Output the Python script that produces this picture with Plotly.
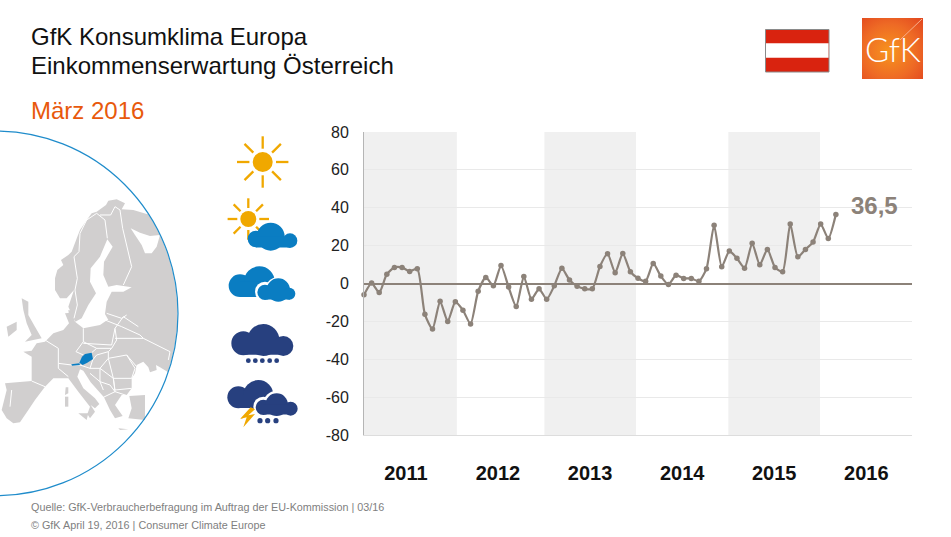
import base64, math
import plotly.graph_objects as go

W, H = 951, 537
FONT = "Liberation Sans"
LINE = "#8c8279"

# ---------- data ----------
months = list(range(63))
index_values = [
    -6.0, 0.2, -4.8, 4.9, 8.5, 8.5, 6.4, 7.8, -16.3, -24.0, -9.4, -20.0,
    -9.7, -14.1, -21.4, -4.1, 3.2, -1.2, 9.5, -1.9, -12.2, 3.7, -8.3, -2.8,
    -8.3, -1.2, 8.0, 1.8, -1.4, -2.8, -2.8, 9.0, 15.7, 5.7, 15.9, 6.2,
    2.8, 1.2, 10.6, 3.9, -0.5, 4.4, 2.7, 2.7, 1.2, 7.8, 30.7, 8.8,
    17.1, 13.3, 8.1, 21.2, 9.9, 18.0, 8.5, 6.2, 31.4, 14.1, 18.0, 21.9,
    31.4, 23.7, 36.5,
]
year_labels = ["2011", "2012", "2013", "2014", "2015", "2016"]
year_ticks = [5.5, 17.6, 29.7, 41.8, 53.9, 66.0]
y_ticks = [80, 60, 40, 20, 0, -20, -40, -60, -80]
y_tick_labels = ["80", "60", "40", "20", "0", "-20", "-40", "-60", "-80"]
band_edges = [(0, 12.2), (23.7, 35.74), (47.87, 59.92)]

# ---------- pixel helpers for the decoration ----------
def fx(x): return x / W
def fy(y): return 1 - y / H
def rect(x0, y0, x1, y1, fill, line=None, lw=0, layer="above"):
    return dict(type="rect", xref="paper", yref="paper", x0=fx(x0), x1=fx(x1), y0=fy(y1), y1=fy(y0),
                fillcolor=fill, line=dict(color=line or fill, width=lw), layer=layer)
def circle(cx, cy, r, fill, line=None, lw=0):
    return dict(type="circle", xref="paper", yref="paper", x0=fx(cx - r), x1=fx(cx + r),
                y0=fy(cy + r), y1=fy(cy - r), fillcolor=fill,
                line=dict(color=line or fill, width=lw), layer="above")
def seg(x0, y0, x1, y1, color, lw):
    return dict(type="line", xref="paper", yref="paper", x0=fx(x0), x1=fx(x1), y0=fy(y0), y1=fy(y1),
                line=dict(color=color, width=lw), layer="above")
def poly(pts, fill, line=None, lw=0, close=True):
    d = "M" + " L".join(f"{fx(x):.5f},{fy(y):.5f}" for x, y in pts) + (" Z" if close else "")
    s = dict(type="path", xref="paper", yref="paper", path=d,
             line=dict(color=line or fill, width=lw), layer="above")
    if fill and close:
        s["fillcolor"] = fill
    return s

C_CX, C_CY, C_R = -4.3, 313.4, 182.3
def arc(y0, y1, n=12):
    return [(C_CX + math.sqrt(C_R**2 - (y0 + (y1 - y0) * i / n - C_CY)**2) - 0.5, y0 + (y1 - y0) * i / n)
            for i in range(n + 1)]
def z5(p): return [(x / 3, 190 + y / 3) for x, y in p]
def z6(p): return [(x / 3, 310 + y / 3) for x, y in p]

GRAY = "#d1cfcf"
shapes = []
for a, b in band_edges:
    shapes.append(dict(type="rect", xref="x", yref="y", x0=a, x1=b, y0=-80, y1=80,
                       fillcolor="#f0f0f0", line=dict(width=0), layer="below"))

# --- Europe map ---
nordic = (z5([(165, 265), (172, 240), (190, 225), (183, 210), (205, 195), (215, 185), (232, 140), (240, 120),
              (262, 88), (275, 70), (290, 65), (318, 45), (325, 32), (350, 28), (375, 40), (365, 58), (400, 60),
              (440, 72)])
          + arc(214, 332)
          + z6([(355, 40), (325, 30), (315, 12), (320, -25)])
          + z5([(335, 305), (370, 305), (395, 292), (350, 285), (325, 290), (310, 255), (312, 215), (338, 170),
                (322, 148), (300, 200), (272, 235), (270, 275), (288, 310), (265, 345), (245, 385), (226, 395),
                (205, 350), (222, 300), (200, 325), (180, 325), (165, 300)]))
shapes.append(poly(nordic, GRAY))
shapes.append(poly(z5([(392, 115), (420, 128), (450, 138), (480, 135), (470, 170), (455, 190), (435, 190),
                       (425, 165), (405, 135)]), "#ffffff"))
continent = (z6([(195, 10), (215, 8), (225, 35), (250, 55), (300, 45), (322, 30), (360, 30)])
             + arc(320, 372, 6)
             + z6([(480, 172), (468, 165), (470, 180), (450, 187), (445, 172), (430, 155), (410, 165), (405, 190),
                   (395, 205), (395, 235), (380, 255), (365, 255), (345, 285), (368, 318), (345, 325), (330, 300),
                   (312, 262), (272, 217), (250, 182), (240, 178), (232, 200), (250, 235), (285, 265), (298, 282),
                   (285, 295), (272, 285), (285, 305), (270, 325), (262, 312), (270, 290), (235, 245), (205, 205),
                   (160, 205), (135, 230), (105, 270), (85, 300), (60, 337), (40, 340), (20, 325), (5, 300),
                   (20, 240), (15, 220), (95, 213), (95, 140), (70, 125), (95, 122), (110, 100), (135, 95),
                   (160, 70), (190, 60), (207, 40)]))
shapes.append(poly(continent, GRAY))
for p in [[(388, 258), (435, 255), (435, 330), (385, 325), (395, 295)],
          [(65, -35), (85, -25), (85, 15), (105, 50), (125, 85), (75, 95), (95, 75), (80, 40), (70, 0)],
          [(20, 50), (50, 35), (50, 60), (25, 80)],
          [(197, 232), (205, 232), (205, 250), (195, 255)],
          [(195, 260), (205, 260), (205, 290), (195, 290)],
          [(235, 310), (265, 310), (260, 330)],
          [(355, 355), (385, 358), (360, 360)],
          [(205, 0), (232, 5), (228, 30), (208, 25)]]:
    shapes.append(poly(z6(p), GRAY))
for p in [
    z5([(290, 70), (260, 90), (240, 130), (237, 185), (222, 200), (232, 265), (225, 300), (232, 345), (222, 385)]),
    z5([(290, 70), (315, 90), (322, 145)]),
    z5([(300, 75), (332, 75), (345, 50), (360, 60), (368, 115), (395, 230), (370, 285)]),
    z6([(95, 213), (135, 230)]),
    z6([(35, 240), (30, 290)]),
    z6([(135, 90), (175, 115), (175, 160), (175, 175), (205, 200)]),
    z6([(175, 160), (215, 165), (240, 165), (270, 175)]),
    z6([(250, 55), (250, 95), (228, 125), (250, 135)]),
    z6([(250, 95), (290, 115), (275, 128)]),
    z6([(250, 100), (335, 105), (345, 55), (350, 90), (335, 115)]),
    z6([(290, 115), (335, 115), (325, 125), (290, 135), (278, 150), (270, 175)]),
    z6([(325, 125), (325, 145), (300, 175), (270, 175)]),
    z6([(325, 145), (380, 135), (405, 175), (395, 205), (340, 205), (325, 145)]),
    z6([(300, 175), (340, 205), (345, 245), (310, 262)]),
    z6([(340, 205), (345, 240), (395, 235)]),
    z6([(345, 245), (385, 258)]),
    z6([(270, 190), (300, 215), (310, 240)]),
    z6([(300, 175), (300, 215), (330, 225), (345, 245)]),
    z6([(315, 30), (365, 50), (420, 75), (430, 85)]),
    z6([(320, 10), (365, 25), (380, 15)]),
    z6([(345, 55), (370, 20), (415, 50)]),
    z6([(345, 85), (430, 85), (510, 125), (505, 150)]),
    z6([(380, 135), (410, 170)]),
]:
    shapes.append(poly(p, None, "#ffffff", 1.0, close=False))
shapes.append(poly(z6([(238, 158), (246, 140), (255, 132), (275, 128), (279, 147), (262, 158), (248, 165)]), "#0a7dc2"))
shapes.append(poly(z6([(214, 163), (238, 160), (240, 165), (216, 167)]), "#0a7dc2"))
shapes.append(circle(C_CX, C_CY, C_R, "rgba(0,0,0,0)", "#1f8ccb", 1.2))

# --- weather icons ---
ORANGE, BLUE, NAVY = "#f0a800", "#0a7dc2", "#27407f"
def sun(cx, cy, r, r0, r1):
    out = [circle(cx, cy, r, ORANGE)]
    for k in range(8):
        a = k * math.pi / 4
        out.append(seg(cx + r0 * math.cos(a), cy + r0 * math.sin(a), cx + r1 * math.cos(a), cy + r1 * math.sin(a), ORANGE, 2.3))
    return out
def cloud(cs, xl, xr, base, col):
    out = [circle(x, y, r, col) for x, y, r in cs]
    out.append(rect(xl, min(y for _, y, _ in cs), xr, base, col))
    return out
def z7c(c): return [(x / 3 + 220, y / 3 + 130, r / 3) for x, y, r in c]
def z8c(c): return [(x / 3 + 220, y / 3 + 310, r / 3) for x, y, r in c]
def z3c(c): return [(x / 3, y / 3 + 120, r / 3) for x, y, r in c]

shapes += sun(262.7, 162, 10, 13.3, 25.7)
shapes += sun(248.3, 219, 8, 11, 20.7)
shapes += cloud(z7c([(108, 327, 25), (152, 320, 42), (210, 332, 22)]), 256, 290, 247.5, BLUE)
shapes += cloud(z3c([(720, 497, 34), (778, 485, 46)]), 240, 268, 297, BLUE)
shapes += cloud(z3c([(795, 515, 30), (835, 510, 39), (868, 520, 24)]), 262, 291, 301, "#ffffff")
shapes += cloud(z3c([(795, 517, 23), (835, 510, 35), (868, 521, 18)]), 265, 290, 299.5, BLUE)
shapes += cloud(z8c([(70, 100, 36), (130, 90, 48), (190, 108, 30)]), 243, 283, 354.7, NAVY)
for x in (85, 106, 127, 149, 170):
    shapes.append(circle(x / 3 + 220, 152 / 3 + 310, 2.4, NAVY))
shapes += cloud(z8c([(55, 262, 33), (115, 255, 45)]), 238, 262, 408, NAVY)
shapes += cloud(z8c([(130, 290, 30), (170, 282, 40), (212, 295, 27)]), 262, 291, 417, "#ffffff")
shapes += cloud(z8c([(130, 292, 23), (170, 284, 34), (212, 296, 21)]), 263, 291, 414.5, NAVY)
for x in (120, 143, 168):
    shapes.append(circle(x / 3 + 220, 332 / 3 + 310, 2.6, NAVY))
shapes.append(poly([(x / 3 + 220, y / 3 + 310) for x, y in
                    [(92, 292), (60, 327), (80, 322), (70, 352), (105, 312), (85, 316), (105, 298)]], ORANGE))

# --- flag and logo backdrop ---
shapes.append(rect(765.5, 29.5, 829, 72, "#d9230f", "#8a8a8a", 1))
shapes.append(rect(766, 43.3, 828.5, 57.7, "#ffffff"))
shapes.append(seg(900, 40, 922, 19, "#f7b08c", 1))

svg = ('<svg xmlns="http://www.w3.org/2000/svg" width="61" height="61">'
       '<defs><radialGradient id="g" cx="0.45" cy="0.55" r="0.75">'
       '<stop offset="0" stop-color="#f7941d"/><stop offset="0.6" stop-color="#ee6a25"/>'
       '<stop offset="1" stop-color="#e2481f"/></radialGradient></defs>'
       '<rect width="61" height="61" fill="url(#g)"/></svg>')
logo = "data:image/svg+xml;base64," + base64.b64encode(svg.encode()).decode()

def text(x, y, s, size, color, anchor="left", family=FONT, bold=False, weight=None):
    f = dict(family=family, size=size, color=color)
    if weight:
        f["weight"] = weight
    return dict(xref="paper", yref="paper", x=fx(x), y=fy(y), text=f"<b>{s}</b>" if bold else s,
                showarrow=False, xanchor=anchor, yanchor="middle", font=f)

annotations = [
    text(29, 37, "GfK Konsumklima Europa", 24, "#111111"),
    text(29, 66, "Einkommenserwartung Österreich", 24, "#111111"),
    text(29, 110, "März 2016", 24, "#e8590c"),
    text(849, 205, "36,5", 24, LINE, bold=True),
    text(29, 507, "Quelle: GfK-Verbraucherbefragung im Auftrag der EU-Kommission | 03/16", 10.8, "#808080"),
    text(29, 525, "© GfK April 19, 2016 | Consumer Climate Europe", 10.8, "#808080"),
    text(892.5, 49, "GfK", 33, "#ffffff", anchor="center", family="Lato", weight=300),
]

fig = go.Figure(go.Scatter(
    x=months, y=index_values, mode="lines+markers",
    line=dict(color=LINE, width=2.2, shape="spline", smoothing=0.6),
    marker=dict(color=LINE, size=5.5),
    cliponaxis=False, hoverinfo="skip", showlegend=False,
))
fig.update_layout(
    width=W, height=H, margin=dict(l=0, r=0, t=0, b=0, autoexpand=False),
    paper_bgcolor="#ffffff", plot_bgcolor="rgba(0,0,0,0)",
    font=dict(family=FONT, color="#222222"),
    shapes=shapes, annotations=annotations,
    images=[dict(source=logo, xref="paper", yref="paper", x=fx(862), y=fy(18), sizex=61 / W, sizey=61 / H,
                 xanchor="left", yanchor="top", sizing="stretch", layer="below")],
    xaxis=dict(domain=[364 / W, 912 / W], range=[0, 72], tickmode="array", tickvals=year_ticks,
               ticktext=[f"<b>{t}</b>" for t in year_labels], tickfont=dict(size=20, color="#111111"),
               showgrid=False, zeroline=False, showline=True, linecolor="#dddddd", linewidth=1,
               ticks="", ticklabelstandoff=20, automargin=False),
    yaxis=dict(domain=[1 - 435 / H, 1 - 132 / H], range=[-80, 80], tickmode="array", tickvals=y_ticks,
               ticktext=y_tick_labels, tickfont=dict(size=16, color="#222222"), showgrid=True,
               gridcolor="#e9e9e9", gridwidth=1, zeroline=True, zerolinecolor=LINE, zerolinewidth=2,
               showline=True, linecolor="#b5b5b5", linewidth=1, ticks="", ticklabelstandoff=11, automargin=False),
)
fig.write_html("out.html", post_script="document.body.style.margin='0';", config={"displayModeBar": False})
